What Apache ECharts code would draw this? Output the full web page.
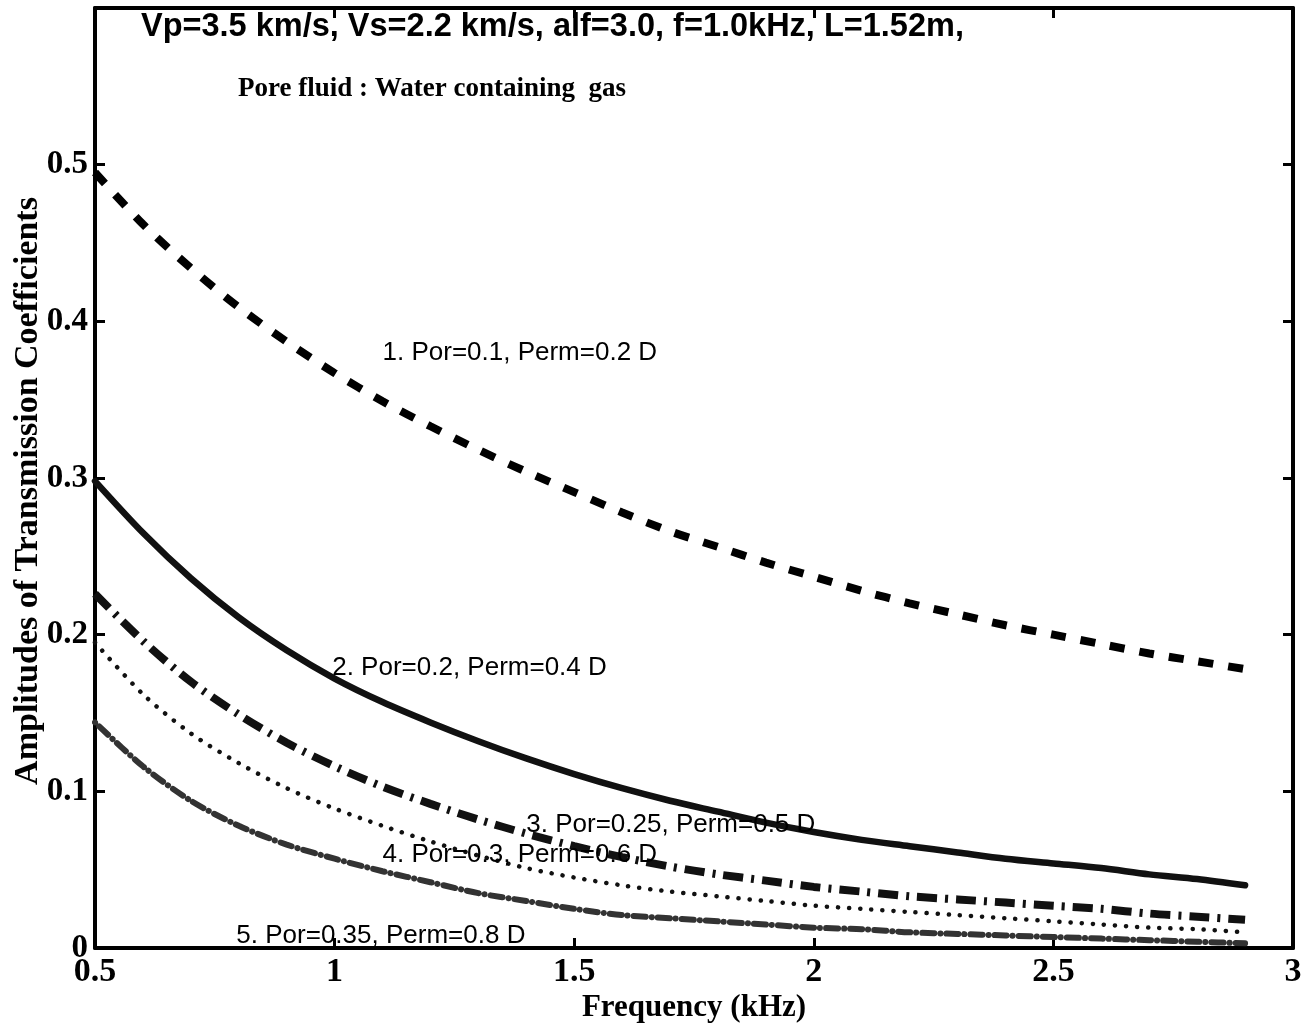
<!DOCTYPE html>
<html>
<head>
<meta charset="utf-8">
<script src="https://cdn.jsdelivr.net/npm/echarts@6/dist/echarts.min.js"></script>
<style>
html,body{margin:0;padding:0;background:#fff;}
#chart{width:1310px;height:1029px;}
</style>
</head>
<body>
<div id="chart"></div>
<script>
// Frequency (kHz)
const freq = [0.5,0.6,0.7,0.8,0.9,1.0,1.1,1.2,1.3,1.4,1.5,1.6,1.7,1.8,1.9,2.0,2.1,2.2,2.3,2.4,2.5,2.6,2.7,2.8,2.9];
// Amplitudes of transmission coefficients
const curve1 = [0.495,0.462,0.434,0.409,0.387,0.367,0.349,0.333,0.318,0.304,0.291,0.278,0.266,0.256,0.246,0.237,0.228,0.220,0.213,0.206,0.200,0.194,0.188,0.183,0.178];
const curve2 = [0.298,0.265,0.236,0.211,0.190,0.172,0.157,0.144,0.132,0.121,0.111,0.102,0.094,0.087,0.080,0.074,0.069,0.065,0.061,0.057,0.054,0.051,0.047,0.044,0.040];
const curve3 = [0.226,0.196,0.170,0.149,0.131,0.116,0.103,0.092,0.082,0.073,0.065,0.058,0.052,0.047,0.043,0.039,0.036,0.033,0.031,0.029,0.027,0.025,0.022,0.020,0.018];
const curve4 = [0.195,0.162,0.137,0.118,0.102,0.089,0.078,0.068,0.059,0.051,0.045,0.040,0.036,0.033,0.030,0.027,0.025,0.023,0.021,0.019,0.017,0.015,0.013,0.012,0.010];
const curve5 = [0.144,0.116,0.094,0.078,0.066,0.057,0.049,0.042,0.035,0.030,0.025,0.021,0.019,0.017,0.015,0.013,0.012,0.010,0.009,0.008,0.007,0.006,0.005,0.004,0.003];
const curveNames = ['1. Por=0.1, Perm=0.2 D','2. Por=0.2, Perm=0.4 D','3. Por=0.25, Perm=0.5 D','4. Por=0.3, Perm=0.6 D','5. Por=0.35, Perm=0.8 D'];
// label anchors (data coordinates, left edge of text)
const labelX = [1.10, 0.995, 1.40, 1.10, 0.795];
const labelY = [0.380, 0.179, 0.0785, 0.0594, 0.0077];
const xTicks = ['0.5','1','1.5','2','2.5','3'];
const yTicks = ['0','0.1','0.2','0.3','0.4','0.5'];
const titleText = 'Vp=3.5 km/s, Vs=2.2 km/s, alf=3.0, f=1.0kHz, L=1.52m,';
const subText = 'Pore fluid : Water containing  gas';

const serif = '"Liberation Serif","Times New Roman",serif';
const sans = '"Liberation Sans",Arial,sans-serif';
const pairs = a => freq.map((f,i)=>[f,a[i]]);

const styles = [
  {width:8, type:[15,15], cap:'butt', color:'#000'},
  {width:6.5, type:'solid', cap:'round', color:'#111'},
  {width:8, type:[20,8,3,8], cap:'butt', color:'#111'},
  {width:4.5, type:[0.1,11], cap:'round', color:'#111'},
  {width:6, type:[0.1,6,12,6], cap:'round', color:'#333'}
];
const curves = [curve1,curve2,curve3,curve4,curve5];

const series = curves.map((c,i)=>({
  type:'line', data:pairs(c), showSymbol:false, smooth:0.3, xAxisIndex:0, yAxisIndex:0,
  lineStyle:{width:styles[i].width, type:styles[i].type, cap:styles[i].cap, color:styles[i].color},
  animation:false, z:2
}));
series.push({
  type:'scatter', xAxisIndex:0, yAxisIndex:0, symbolSize:0, animation:false, silent:true, z:5,
  itemStyle:{opacity:1},
  data: curveNames.map((n,i)=>({value:[labelX[i],labelY[i]], name:n})),
  label:{show:true, position:'right', distance:0, formatter:p=>p.name, fontFamily:sans, fontSize:26, color:'#000', opacity:1}
});

const axisLine = {show:true, onZero:false, lineStyle:{color:'#000', width:4}};
const tickIn = {show:true, inside:true, length:10, lineStyle:{color:'#000', width:3}};

const chart = echarts.init(document.getElementById('chart'), null, {renderer:'canvas'});
chart.setOption({
  backgroundColor:'#fff',
  animation:false,
  title:[
    {text:titleText, left:136, top:6, textStyle:{fontFamily:sans, fontWeight:'bold', fontSize:32.5, color:'#000'}},
    {text:subText, left:233, top:71, textStyle:{fontFamily:serif, fontWeight:'bold', fontSize:27, color:'#000'}}
  ],
  grid:{left:95, right:17, top:8, bottom:81, containLabel:false, outerBoundsMode:'none'},
  xAxis:[
    {type:'value', min:0.5, max:3, interval:0.5, position:'bottom',
     name:'Frequency (kHz)', nameLocation:'middle', nameGap:44, nameMoveOverlap:false,
     nameTextStyle:{fontFamily:serif, fontWeight:'bold', fontSize:31, color:'#000'},
     axisLine:axisLine, axisTick:tickIn, splitLine:{show:false},
     axisLabel:{margin:7, fontFamily:serif, fontWeight:'bold', fontSize:34, color:'#000',
       formatter:v=>{const i=Math.round((v-0.5)/0.5); return xTicks[i]!==undefined?xTicks[i]:'';}}},
    {type:'value', min:0.5, max:3, interval:0.5, position:'top',
     axisLine:axisLine, axisTick:tickIn, axisLabel:{show:false}, splitLine:{show:false}}
  ],
  yAxis:[
    {type:'value', min:0, max:0.6, interval:0.1, position:'left',
     name:'Amplitudes of Transmission Coefficients', nameLocation:'middle', nameGap:50, nameRotate:90, nameMoveOverlap:false,
     nameTextStyle:{fontFamily:serif, fontWeight:'bold', fontSize:34, color:'#000', padding:[0,26,0,0]},
     axisLine:axisLine, axisTick:tickIn, splitLine:{show:false},
     axisLabel:{margin:7, fontFamily:serif, fontWeight:'bold', fontSize:33, color:'#000',
       formatter:v=>{const i=Math.round(v/0.1); return yTicks[i]!==undefined?yTicks[i]:'';}}},
    {type:'value', min:0, max:0.6, interval:0.1, position:'right',
     axisLine:axisLine, axisTick:tickIn, axisLabel:{show:false}, splitLine:{show:false}}
  ],
  series:series
});
</script>
</body>
</html>
